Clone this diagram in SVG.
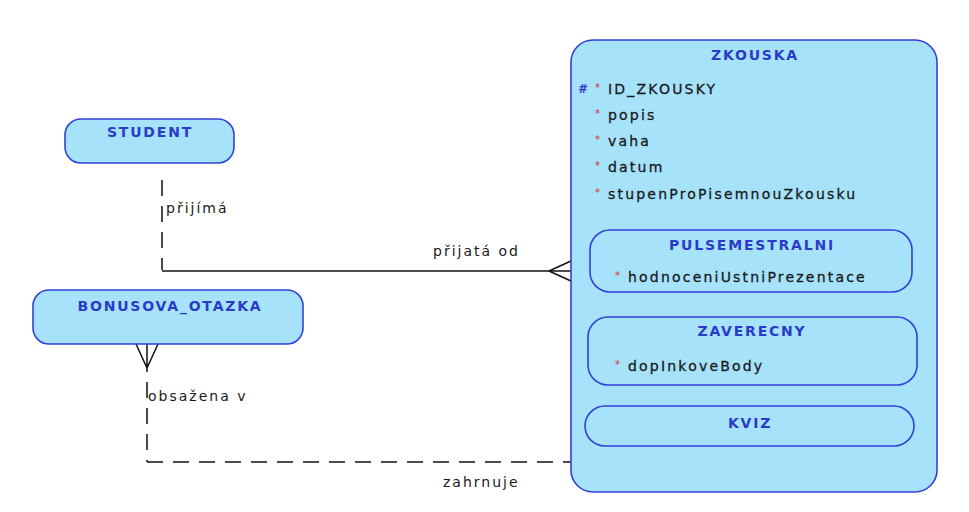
<svg xmlns="http://www.w3.org/2000/svg" width="969" height="512" viewBox="0 0 969 512">
<style>
.ent{fill:#a6e3fb;stroke:#3340d8;stroke-width:1.6}
.sub{fill:none;stroke:#3340d8;stroke-width:1.6}
.t{font-family:"DejaVu Sans",Verdana,sans-serif;font-size:14px;font-weight:bold;fill:#2b3bc8;text-anchor:middle;letter-spacing:1.8px}
.a{font-family:"DejaVu Sans",Verdana,sans-serif;font-size:14px;fill:#1a1a1a;stroke:#1a1a1a;stroke-width:0.3;letter-spacing:2.2px}
.st{font-family:"DejaVu Sans",sans-serif;font-size:10px;fill:#d03030}
.pk{font-family:"DejaVu Sans",sans-serif;font-size:12px;font-weight:bold;fill:#2b3bc8}
.l{font-family:"DejaVu Sans",Verdana,sans-serif;font-size:14px;fill:#1a1a1a;letter-spacing:2px}
.ln{fill:none;stroke:#111;stroke-width:1.5}
.dash{stroke-dasharray:16,10}
</style>
<g id="connectors">
<path class="ln dash" d="M162,180 V270"/>
<path class="ln" d="M162,271 H571"/>
<path class="ln" d="M549,271 L571,261 M549,271 L571,281"/>
<path class="ln" d="M136,344 L147,368 L158,344 M147,344 V372"/>
<path class="ln dash" d="M147,382 V462"/>
<path class="ln dash" d="M147,462 H571"/>
<text class="l" x="166" y="213">přijímá</text>
<text class="l" x="433" y="256">přijatá od</text>
<text class="l" x="148" y="401">obsažena v</text>
<text class="l" x="443" y="487">zahrnuje</text>
</g>
<g id="STUDENT">
<rect class="ent" x="65" y="119" width="169" height="44" rx="16"/>
<text class="t" x="150" y="137">STUDENT</text>
</g>
<g id="BONUSOVA_OTAZKA">
<rect class="ent" x="33" y="290" width="270" height="54" rx="16"/>
<text class="t" x="170" y="311">BONUSOVA_OTAZKA</text>
</g>
<g id="ZKOUSKA">
<rect class="ent" x="571" y="40" width="366" height="452" rx="22"/>
<text class="t" x="755" y="60">ZKOUSKA</text>
<text class="pk" x="578" y="93">#</text>
<text class="st" x="595" y="91">*</text>
<text class="a" x="608" y="94">ID_ZKOUSKY</text>
<text class="st" x="595" y="117">*</text>
<text class="a" x="608" y="120">popis</text>
<text class="st" x="595" y="143">*</text>
<text class="a" x="608" y="146">vaha</text>
<text class="st" x="595" y="169">*</text>
<text class="a" x="608" y="172">datum</text>
<text class="st" x="595" y="196">*</text>
<text class="a" x="608" y="199">stupenProPisemnouZkousku</text>
</g>
<g id="PULSEMESTRALNI">
<rect class="sub" x="590" y="230" width="322" height="62" rx="20"/>
<text class="t" x="752" y="250">PULSEMESTRALNI</text>
<text class="st" x="615" y="279">*</text>
<text class="a" x="628" y="282">hodnoceniUstniPrezentace</text>
</g>
<g id="ZAVERECNY">
<rect class="sub" x="588" y="317" width="329" height="68" rx="20"/>
<text class="t" x="752" y="336">ZAVERECNY</text>
<text class="st" x="615" y="368">*</text>
<text class="a" x="628" y="371">dopInkoveBody</text>
</g>
<g id="KVIZ">
<rect class="sub" x="585" y="406" width="329" height="40" rx="20"/>
<text class="t" x="750" y="428">KVIZ</text>
</g>
</svg>
